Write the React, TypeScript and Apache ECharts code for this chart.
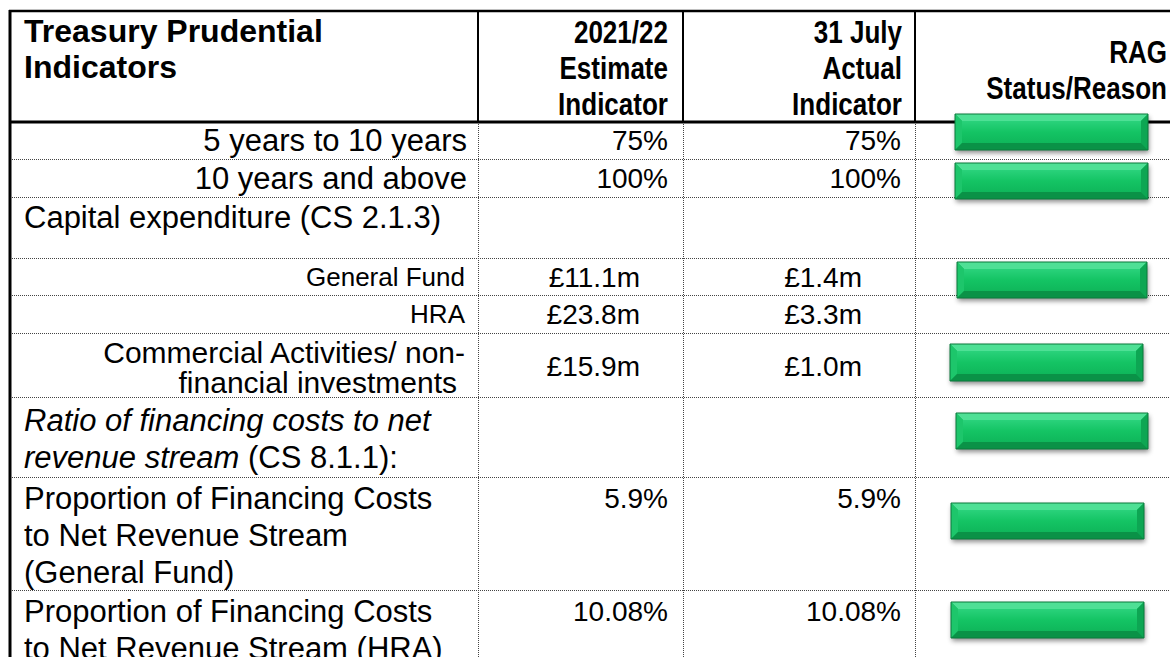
import React, { useEffect, useRef } from "react";
import * as echarts from "echarts";

// ---------- data ----------
const headerIndicator = ["Treasury Prudential", "Indicators"];
const headerEstimate = ["2021/22", "Estimate", "Indicator"];
const headerActual = ["31 July", "Actual", "Indicator"];
const headerRag = ["RAG", "Status/Reason"];

const indicatorLabels: string[][] = [
  ["5 years to 10 years"],
  ["10 years and above"],
  ["Capital expenditure (CS 2.1.3)"],
  ["General Fund"],
  ["HRA"],
  ["Commercial Activities/ non-", "financial investments"],
  ["Ratio of financing costs to net", "revenue stream (CS 8.1.1):"],
  ["Proportion of Financing Costs", "to Net Revenue Stream", "(General Fund)"],
  ["Proportion of Financing Costs", "to Net Revenue Stream (HRA)"],
];
const estimateValues = ["75%", "100%", "", "£11.1m", "£23.8m", "£15.9m", "", "5.9%", "10.08%"];
const actualValues = ["75%", "100%", "", "£1.4m", "£3.3m", "£1.0m", "", "5.9%", "10.08%"];
const ragStatus = ["Green", "Green", "", "Green", "", "Green", "Green", "Green", "Green"];

// ---------- layout / style ----------
const FONT = "'Liberation Sans', Arial, Helvetica, sans-serif";
const rowTops = [122, 159, 197, 258, 295, 333, 397, 477, 590];
const tableBottom = 657;
const colLines = [478, 683, 915];
const leftEdge = 10;
const rightEdge = 1170;
const labelAlign = ["right", "right", "left", "right", "right", "right", "left", "left", "left"];
const labelX = [[467], [467], [24], [465], [465], [465, 457], [24], [24], [24]];
const labelSize = [31, 31, 31, 26, 26, 30, 31, 31, 31];
const labelLineGap = [37, 37, 37, 30, 30, 30, 37, 37, 37];
const labelFirstOffset = [18, 19, 20, 19, 19, 19, 23, 21, 21];
const italicPrefix = [[], [], [], [], [], [], ["Ratio of financing costs to net", "revenue stream"], [], []];
const valueAnchor2 = [668, 668, 0, 640, 640, 640, 0, 668, 668];
const valueAnchor3 = [901, 901, 0, 862, 862, 862, 0, 901, 901];
const barBoxes: Record<number, number[]> = {
  0: [955, 114, 193, 36],
  1: [955, 163, 193, 36],
  3: [957, 262, 190, 36],
  5: [950, 344, 193, 37],
  6: [956, 413, 192, 36],
  7: [951, 503, 193, 36],
  8: [951, 602, 193, 36],
};

function textEl(text: string, x: number, y: number, opts: any = {}) {
  const size = opts.size ?? 30;
  const el: any = {
    type: "text",
    x,
    y,
    silent: true,
    scaleX: opts.scaleX ?? 1,
    style: {
      text,
      fill: "#000",
      fontSize: size,
      fontFamily: FONT,
      fontWeight: opts.bold ? "bold" : "normal",
      fontStyle: opts.italic ? "italic" : "normal",
      textAlign: opts.align ?? "left",
      textVerticalAlign: "middle",
    },
  };
  if (opts.rich) el.style.rich = opts.rich;
  return el;
}

function hLine(x1: number, x2: number, y: number, w: number, dotted: boolean) {
  return {
    type: "line",
    silent: true,
    shape: { x1, y1: y, x2, y2: y },
    style: { stroke: dotted ? "#444" : "#000", lineWidth: w, lineDash: dotted ? [1, 1] : null },
  };
}
function vLine(x: number, y1: number, y2: number, w: number, dotted: boolean) {
  return {
    type: "line",
    silent: true,
    shape: { x1: x, y1, x2: x, y2 },
    style: { stroke: dotted ? "#444" : "#000", lineWidth: w, lineDash: dotted ? [1, 1] : null },
  };
}

function bevelBar(x: number, y: number, w: number, h: number) {
  const b = 7;
  const face = new echarts.graphic.LinearGradient(0, 0, 0, 1, [
    { offset: 0, color: "#2ad27b" },
    { offset: 0.5, color: "#14c464" },
    { offset: 1, color: "#0fb75b" },
  ]);
  return [
    {
      type: "rect",
      silent: true,
      shape: { x, y, width: w, height: h },
      style: { fill: "#10b85c", shadowBlur: 5, shadowOffsetY: 3, shadowOffsetX: 1, shadowColor: "rgba(0,0,0,0.45)" },
    },
    { type: "rect", silent: true, shape: { x: x + b, y: y + b, width: w - 2 * b, height: h - 2 * b }, style: { fill: face } },
    { type: "polygon", silent: true, shape: { points: [[x, y], [x + w, y], [x + w - b, y + b], [x + b, y + b]] }, style: { fill: "#4ee095" } },
    { type: "polygon", silent: true, shape: { points: [[x, y], [x + b, y + b], [x + b, y + h - b], [x, y + h]] }, style: { fill: "#1dc66b" } },
    { type: "polygon", silent: true, shape: { points: [[x + w, y], [x + w, y + h], [x + w - b, y + h - b], [x + w - b, y + b]] }, style: { fill: "#0da653" } },
    { type: "polygon", silent: true, shape: { points: [[x, y + h], [x + b, y + h - b], [x + w - b, y + h - b], [x + w, y + h]] }, style: { fill: "#0a9247" } },
    { type: "rect", silent: true, shape: { x, y, width: w, height: h }, style: { fill: "none", stroke: "#0b7a3c", lineWidth: 1 } },
  ];
}

function buildElements() {
  const els: any[] = [];
  // borders and grid lines
  rowTops.slice(1).forEach((y) => els.push(hLine(leftEdge, rightEdge, y + 0.5, 1, true)));
  colLines.forEach((x) => els.push(vLine(x + 0.5, rowTops[0], tableBottom, 1, true)));
  colLines.forEach((x) => els.push(vLine(x, 11, rowTops[0], 2, false)));
  els.push(hLine(9, rightEdge, 11, 2.5, false));
  els.push(hLine(9, rightEdge, rowTops[0], 3, false));
  els.push(vLine(10, 10, tableBottom, 3, false));

  // header
  headerIndicator.forEach((t, i) => els.push(textEl(t, 24, 31 + i * 36, { bold: true, size: 32 })));
  headerEstimate.forEach((t, i) => els.push(textEl(t, 668, 32 + i * 36, { bold: true, size: 31, align: "right", scaleX: 0.84 })));
  headerActual.forEach((t, i) => els.push(textEl(t, 902, 32 + i * 36, { bold: true, size: 31, align: "right", scaleX: 0.84 })));
  headerRag.forEach((t, i) => els.push(textEl(t, 1167, 52 + i * 36, { bold: true, size: 31, align: "right", scaleX: 0.84 })));

  // body rows
  indicatorLabels.forEach((lines, r) => {
    const top = rowTops[r];
    const size = labelSize[r];
    const lh = labelLineGap[r];
    const first = top + labelFirstOffset[r];
    lines.forEach((line, k) => {
      const x = labelX[r][k] ?? labelX[r][0];
      const prefix = italicPrefix[r][k];
      if (prefix && line.startsWith(prefix)) {
        const rest = line.slice(prefix.length);
        const text = rest ? `{i|${prefix}}{n|${rest}}` : `{i|${prefix}}`;
        els.push(
          textEl(text, x, first + k * lh, {
            size,
            align: labelAlign[r],
            rich: {
              i: { fontSize: size, fontFamily: FONT, fontStyle: "italic", fill: "#000" },
              n: { fontSize: size, fontFamily: FONT, fontStyle: "normal", fill: "#000" },
            },
          })
        );
      } else {
        els.push(textEl(line, x, first + k * lh, { size, align: labelAlign[r] }));
      }
    });
    const bottom = r + 1 < rowTops.length ? rowTops[r + 1] : tableBottom;
    const vy = r === 5 ? (top + bottom) / 2 + 1 : first;
    if (estimateValues[r]) els.push(textEl(estimateValues[r], valueAnchor2[r], vy, { size: 28, align: "right" }));
    if (actualValues[r]) els.push(textEl(actualValues[r], valueAnchor3[r], vy, { size: 28, align: "right" }));
  });

  // RAG bars
  ragStatus.forEach((s, r) => {
    if (s === "Green" && barBoxes[r]) {
      const [x, y, w, h] = barBoxes[r];
      els.push(...bevelBar(x, y, w, h));
    }
  });
  return els;
}

export default function App() {
  const ref = useRef<HTMLDivElement>(null);
  useEffect(() => {
    if (!ref.current) return;
    const chart = echarts.init(ref.current, null, { renderer: "svg" });
    chart.setOption({
      animation: false,
      backgroundColor: "#ffffff",
      graphic: { elements: buildElements() },
    });
    return () => chart.dispose();
  }, []);
  return (
    <div
      ref={ref}
      style={{ position: "fixed", left: 0, top: 0, width: 1170, height: 657, background: "#fff" }}
    />
  );
}
